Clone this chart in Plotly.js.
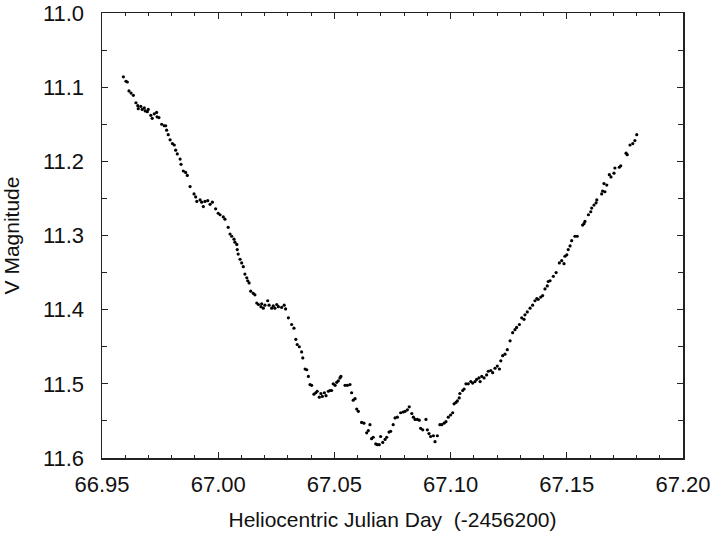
<!DOCTYPE html>
<html>
<head>
<meta charset="utf-8">
<script src="https://cdn.plot.ly/plotly-3.0.1.min.js"></script>
<style>
  html, body { margin: 0; padding: 0; background: #ffffff; }
  #chart { width: 711px; height: 536px; }
</style>
</head>
<body>
<div id="chart"></div>
<script>
// Heliocentric Julian Day (minus 2456200)
const hjd = [
  66.9592, 66.9603, 66.9609, 66.9616, 66.9625, 66.9635, 66.9646, 66.9654, 66.9656, 66.9667,
  66.9673, 66.9682, 66.9686, 66.9695, 66.9699, 66.9710, 66.9716, 66.9725, 66.9735, 66.9737,
  66.9745, 66.9757, 66.9768, 66.9774, 66.9778, 66.9785, 66.9793, 66.9803, 66.9811, 66.9817,
  66.9824, 66.9836, 66.9840, 66.9850, 66.9860, 66.9867, 66.9879, 66.9896, 66.9903, 66.9908,
  66.9922, 66.9929, 66.9936, 66.9943, 66.9955, 66.9965, 66.9975, 66.9989, 67.0000, 67.0008,
  67.0022, 67.0029, 67.0043, 67.0051, 67.0058, 67.0068, 67.0072, 67.0080, 67.0082, 67.0086,
  67.0094, 67.0101, 67.0108, 67.0115, 67.0123, 67.0127, 67.0133, 67.0140, 67.0151, 67.0158,
  67.0166, 67.0173, 67.0184, 67.0187, 67.0194, 67.0201, 67.0213, 67.0219, 67.0230, 67.0237,
  67.0244, 67.0252, 67.0259, 67.0273, 67.0284, 67.0290, 67.0302, 67.0316, 67.0326, 67.0334,
  67.0340, 67.0349, 67.0359, 67.0364, 67.0374, 67.0381, 67.0388, 67.0395, 67.0402, 67.0412,
  67.0420, 67.0426, 67.0435, 67.0442, 67.0448, 67.0457, 67.0464, 67.0474, 67.0481, 67.0488,
  67.0495, 67.0503, 67.0510, 67.0517, 67.0524, 67.0528, 67.0546, 67.0556, 67.0567, 67.0574,
  67.0581, 67.0589, 67.0596, 67.0603, 67.0617, 67.0627, 67.0639, 67.0646, 67.0653, 67.0660,
  67.0667, 67.0678, 67.0685, 67.0693, 67.0699, 67.0708, 67.0718, 67.0725, 67.0735, 67.0742,
  67.0753, 67.0761, 67.0771, 67.0785, 67.0796, 67.0804, 67.0814, 67.0822, 67.0833, 67.0840,
  67.0847, 67.0857, 67.0865, 67.0871, 67.0880, 67.0894, 67.0900, 67.0907, 67.0914, 67.0926,
  67.0933, 67.0943, 67.0954, 67.0962, 67.0972, 67.0980, 67.0990, 67.1000, 67.1009, 67.1015,
  67.1023, 67.1029, 67.1037, 67.1040, 67.1052, 67.1058, 67.1066, 67.1076, 67.1087, 67.1095,
  67.1105, 67.1112, 67.1122, 67.1127, 67.1134, 67.1144, 67.1155, 67.1162, 67.1173, 67.1181,
  67.1191, 67.1201, 67.1210, 67.1216, 67.1224, 67.1234, 67.1244, 67.1256, 67.1267, 67.1277,
  67.1284, 67.1296, 67.1306, 67.1316, 67.1320, 67.1330, 67.1342, 67.1353, 67.1363, 67.1371,
  67.1377, 67.1388, 67.1396, 67.1406, 67.1416, 67.1420, 67.1428, 67.1442, 67.1454, 67.1468,
  67.1478, 67.1488, 67.1492, 67.1500, 67.1506, 67.1514, 67.1521, 67.1535, 67.1545, 67.1568,
  67.1574, 67.1578, 67.1593, 67.1603, 67.1607, 67.1617, 67.1626, 67.1629, 67.1650, 67.1654,
  67.1660, 67.1664, 67.1672, 67.1683, 67.1690, 67.1703, 67.1707, 67.1726, 67.1732, 67.1755,
  67.1760, 67.1772, 67.1784, 67.1793, 67.1801
];

// V magnitude for each observation
const vmag = [
  11.086, 11.092, 11.093, 11.105, 11.108, 11.111, 11.121, 11.125, 11.129, 11.126,
  11.130, 11.128, 11.132, 11.133, 11.130, 11.138, 11.142, 11.136, 11.134, 11.140,
  11.141, 11.150, 11.152, 11.152, 11.158, 11.164, 11.171, 11.176, 11.178, 11.185,
  11.190, 11.197, 11.204, 11.213, 11.215, 11.219, 11.234, 11.244, 11.248, 11.254,
  11.252, 11.255, 11.261, 11.254, 11.253, 11.258, 11.255, 11.264, 11.270, 11.272,
  11.275, 11.278, 11.289, 11.298, 11.301, 11.305, 11.309, 11.312, 11.319, 11.325,
  11.332, 11.337, 11.342, 11.352, 11.357, 11.361, 11.364, 11.375, 11.378, 11.380,
  11.391, 11.393, 11.396, 11.392, 11.398, 11.394, 11.388, 11.394, 11.398, 11.395,
  11.398, 11.393, 11.396, 11.397, 11.394, 11.399, 11.411, 11.420, 11.425, 11.440,
  11.447, 11.450, 11.457, 11.465, 11.480, 11.481, 11.490, 11.501, 11.502, 11.514,
  11.512, 11.510, 11.518, 11.513, 11.517, 11.512, 11.516, 11.510, 11.509, 11.509,
  11.500, 11.502, 11.498, 11.496, 11.492, 11.490, 11.502, 11.502, 11.501, 11.512,
  11.522, 11.520, 11.534, 11.537, 11.552, 11.553, 11.566, 11.563, 11.555, 11.574,
  11.572, 11.581, 11.582, 11.582, 11.571, 11.579, 11.575, 11.572, 11.565, 11.564,
  11.555, 11.546, 11.545, 11.539, 11.538, 11.537, 11.535, 11.531, 11.540, 11.545,
  11.548, 11.548, 11.549, 11.560, 11.562, 11.548, 11.562, 11.567, 11.571, 11.570,
  11.578, 11.570, 11.555, 11.555, 11.553, 11.551, 11.545, 11.542, 11.539, 11.527,
  11.525, 11.523, 11.519, 11.513, 11.509, 11.507, 11.500, 11.500, 11.497, 11.499,
  11.497, 11.494, 11.492, 11.497, 11.490, 11.492, 11.488, 11.483, 11.482, 11.485,
  11.479, 11.476, 11.480, 11.469, 11.462, 11.460, 11.454, 11.442, 11.431, 11.427,
  11.424, 11.420, 11.411, 11.413, 11.407, 11.403, 11.398, 11.394, 11.388, 11.385,
  11.386, 11.383, 11.381, 11.372, 11.368, 11.362, 11.361, 11.355, 11.350, 11.337,
  11.334, 11.338, 11.328, 11.326, 11.319, 11.314, 11.307, 11.301, 11.301, 11.286,
  11.284, 11.281, 11.272, 11.268, 11.263, 11.259, 11.256, 11.252, 11.244, 11.240,
  11.230, 11.241, 11.232, 11.218, 11.221, 11.216, 11.209, 11.208, 11.206, 11.189,
  11.191, 11.178, 11.176, 11.172, 11.164
];

const xTitle = 'Heliocentric Julian Day  (-2456200)';
const yTitle = 'V Magnitude';

const font = 'Arial, "Liberation Sans", sans-serif';
const ink = '#111111';

const trace = {
  x: hjd,
  y: vmag,
  type: 'scatter',
  mode: 'markers',
  marker: { size: 3.2, color: '#000000' },
  hoverinfo: 'x+y'
};

const axisCommon = {
  showline: true,
  linecolor: '#222222',
  linewidth: 1.5,
  mirror: 'allticks',
  ticks: 'inside',
  tickcolor: '#222222',
  tickwidth: 1,
  showgrid: false,
  zeroline: false,
  tickfont: { family: font, size: 22, color: ink },
  fixedrange: true
};

const layout = {
  width: 711,
  height: 536,
  margin: { l: 102, r: 28, t: 13, b: 78 },
  paper_bgcolor: '#ffffff',
  plot_bgcolor: '#ffffff',
  showlegend: false,
  xaxis: Object.assign({}, axisCommon, {
    range: [66.95, 67.20],
    tick0: 66.95,
    dtick: 0.05,
    tickformat: '.2f',
    ticklen: 6,
    ticklabelstandoff: 6,
    minor: { dtick: 0.01, ticks: 'inside', ticklen: 3, tickcolor: '#222222', showgrid: false },
    title: { text: xTitle, font: { family: font, size: 21, color: ink }, standoff: 16 }
  }),
  yaxis: Object.assign({}, axisCommon, {
    range: [11.6, 11.0],
    tick0: 11.0,
    dtick: 0.1,
    tickformat: '.1f',
    ticklen: 6,
    ticklabelstandoff: 12,
    minor: { dtick: 0.05, ticks: 'inside', ticklen: 5, tickcolor: '#222222', showgrid: false },
    title: { text: yTitle, font: { family: font, size: 21, color: ink }, standoff: 18 }
  })
};

Plotly.newPlot('chart', [trace], layout, { displayModeBar: false, staticPlot: true });
</script>
</body>
</html>
